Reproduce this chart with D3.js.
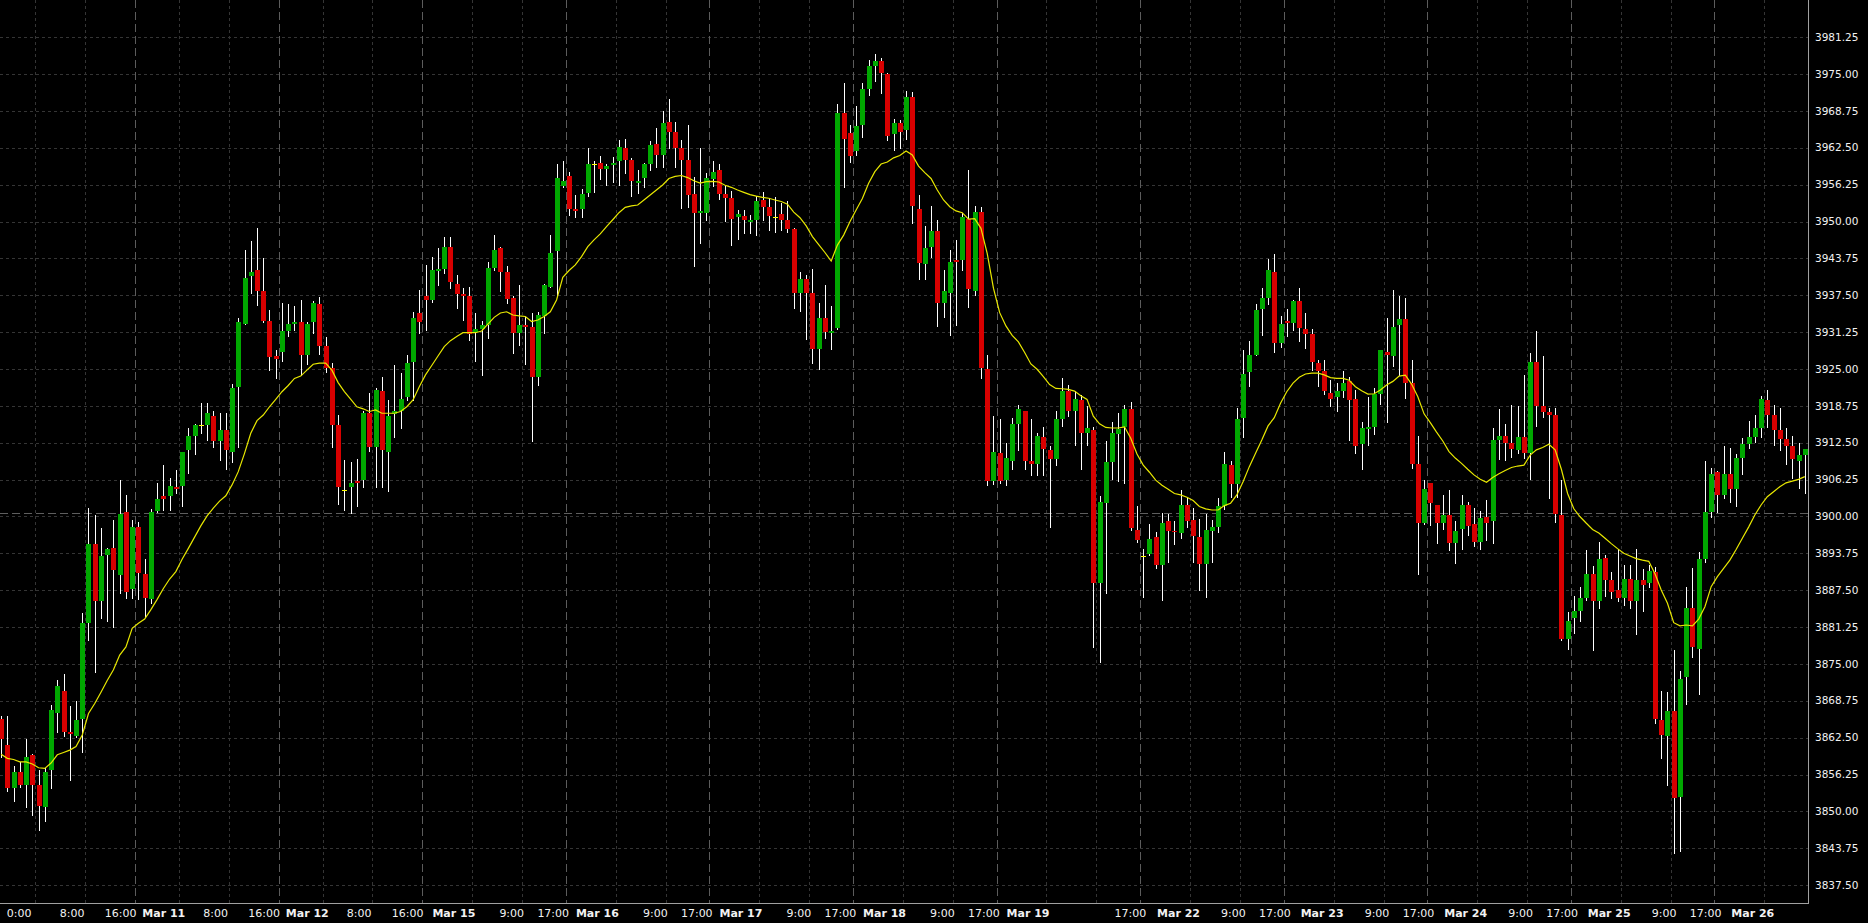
<!DOCTYPE html>
<html><head><meta charset="utf-8">
<script src="https://cdn.jsdelivr.net/npm/d3@7"></script>
<style>
html,body{margin:0;padding:0;background:#000;overflow:hidden}
svg{display:block}
</style></head><body>
<svg id="chart" width="1868" height="923"></svg>
<script>
// ---- data (hourly bars) ----
const opens = [
3865.6,3861.3,3854.0,3856.6,3854.5,3859.6,3854.5,3850.8,3857.0,3866.7,
3870.4,3863.5,3862.8,3865.7,3882.0,3895.4,3885.7,3893.5,3894.7,3890.0,
3900.8,3887.7,3898.2,3890.2,3886.0,3901.0,3903.5,3903.4,3904.95,3905.2,
3911.3,3913.65,3915.5,3915.5,3917.05,3912.85,3914.7,3911.0,3922.0,3932.7,
3940.8,3941.8,3938.2,3933.15,3927.2,3927.95,3931.45,3932.6,3933.0,3927.3,
3933.0,3936.1,3928.95,3925.1,3915.5,3904.5,3905.05,3906.0,3906.1,3917.5,
3911.85,3921.3,3911.0,3917.4,3917.95,3920.3,3926.25,3934.45,3937.4,3936.7,
3941.6,3942.0,3945.6,3939.4,3937.7,3937.4,3931.2,3931.8,3932.5,3942.2,
3945.45,3941.4,3937.0,3931.05,3932.45,3932.05,3923.6,3934.0,3938.95,3945.0,
3956.1,3957.7,3952.2,3952.1,3954.8,3959.75,3959.9,3958.9,3959.5,3960.3,
3962.4,3960.4,3956.6,3957.3,3959.75,3963.15,3961.2,3966.9,3965.2,3962.5,
3960.4,3954.7,3951.4,3951.5,3957.15,3958.75,3954.7,3954.05,3950.8,3951.0,
3949.95,3950.25,3953.65,3952.4,3950.8,3951.3,3950.25,3948.7,3937.8,3940.25,
3937.8,3928.35,3933.6,3931.15,3931.9,3968.45,3965.05,3962.0,3966.4,3972.45,
3976.4,3977.2,3975.0,3964.8,3966.65,3965.6,3971.05,3952.05,3942.75,3945.75,
3948.4,3936.25,3937.95,3943.5,3943.5,3950.4,3938.3,3951.55,3924.95,3906.0,
3910.7,3906.2,3909.45,3915.7,3917.9,3909.4,3908.9,3913.4,3911.3,3909.75,
3916.5,3921.3,3917.9,3919.75,3914.2,3914.65,3888.7,3902.35,3909.3,3914.0,
3915.1,3918.15,3897.7,3893.3,3893.6,3896.5,3891.8,3899.25,3897.55,3897.25,
3901.95,3899.4,3896.6,3891.95,3897.6,3898.3,3901.8,3908.75,3905.5,3916.75,
3924.55,3927.4,3935.2,3937.1,3941.45,3929.45,3933.15,3932.75,3936.5,3931.8,
3930.9,3926.1,3924.7,3920.9,3920.3,3921.3,3922.95,3919.85,3912.3,3914.9,
3915.2,3920.75,3927.9,3927.2,3932.45,3933.5,3922.55,3908.9,3898.95,3905.6,
3901.95,3898.95,3900.25,3895.55,3897.8,3901.95,3898.7,3895.75,3899.98,3899.3,
3912.97,3913.65,3912.5,3911.3,3913.5,3910.8,3926.25,3918.8,3917.7,3917.2,
3900.25,3879.2,3882.85,3884.05,3886.25,3890.25,3885.75,3893.0,3889.25,3887.55,
3886.1,3889.4,3885.6,3889.25,3888.7,3890.6,3865.5,3862.85,3867.1,3852.5,
3872.85,3884.55,3877.55,3892.8,3900.8,3907.5,3903.65,3907.2,3904.7,3909.95,
3912.3,3913.5,3915.05,3919.75,3917.2,3914.65,3913.1,3911.95,3909.45,3910.4
];
const highs = [
3866.2,3866.2,3857.7,3858.3,3862.3,3859.8,3857.1,3857.3,3868.0,3872.3,
3873.3,3867.8,3868.7,3883.6,3901.4,3900.2,3898.0,3894.6,3899.4,3906.2,
3903.6,3899.4,3899.1,3892.8,3901.2,3905.6,3908.7,3906.5,3907.8,3911.0,
3915.0,3915.7,3919.3,3919.3,3917.95,3917.5,3917.5,3922.4,3933.7,3945.2,
3946.7,3948.85,3943.9,3935.0,3928.2,3936.25,3936.0,3935.7,3936.7,3932.9,
3936.5,3937.2,3930.5,3926.1,3917.2,3909.5,3909.3,3909.8,3917.95,3920.9,
3921.85,3923.6,3919.75,3925.6,3924.3,3927.4,3934.7,3938.4,3942.6,3944.05,
3945.45,3947.3,3947.3,3940.9,3938.7,3938.85,3934.45,3933.15,3943.2,3947.7,
3945.75,3942.5,3937.4,3939.25,3933.9,3934.45,3934.7,3939.35,3947.7,3959.75,
3960.3,3958.45,3954.5,3955.5,3962.4,3960.25,3961.1,3959.75,3961.0,3963.8,
3964.0,3960.7,3958.75,3959.9,3963.7,3965.8,3968.75,3970.8,3966.9,3963.9,
3966.35,3957.6,3962.4,3958.2,3960.3,3959.75,3956.0,3955.1,3951.95,3951.95,
3951.1,3954.4,3954.95,3953.9,3954.2,3953.1,3953.5,3948.95,3941.4,3940.9,
3941.95,3936.25,3939.25,3935.7,3969.9,3973.5,3966.4,3969.5,3973.5,3977.4,
3978.4,3977.7,3975.2,3967.4,3967.2,3972.1,3972.0,3954.5,3949.25,3952.6,
3950.25,3941.8,3945.2,3946.9,3951.4,3958.75,3952.6,3952.5,3927.4,3917.05,
3916.5,3912.5,3916.65,3918.9,3917.9,3916.5,3914.1,3915.2,3911.95,3917.9,
3923.4,3922.3,3921.3,3920.6,3918.7,3915.2,3903.5,3912.8,3916.1,3917.5,
3918.9,3919.35,3901.7,3894.5,3898.7,3897.4,3900.55,3900.4,3899.25,3904.5,
3903.35,3901.4,3899.5,3900.4,3899.4,3903.1,3911.0,3909.45,3918.45,3928.2,
3929.8,3936.0,3938.7,3943.65,3944.5,3934.0,3935.1,3936.7,3938.7,3934.55,
3931.8,3926.5,3926.6,3923.1,3922.55,3924.7,3923.7,3921.45,3916.1,3920.3,
3921.7,3928.2,3933.6,3938.4,3937.4,3937.0,3926.5,3913.65,3906.1,3905.6,
3901.95,3903.65,3904.5,3899.25,3903.65,3902.4,3901.4,3900.95,3902.8,3914.95,
3918.3,3915.7,3918.9,3918.7,3924.0,3927.65,3931.45,3927.2,3918.35,3918.35,
3906.2,3883.75,3886.5,3888.1,3894.3,3891.6,3895.75,3893.5,3890.65,3894.5,
3891.8,3891.8,3894.45,3891.05,3891.8,3891.5,3870.5,3870.3,3877.3,3873.8,
3888.1,3891.3,3894.05,3909.45,3908.3,3907.7,3911.95,3911.55,3910.55,3913.25,
3916.2,3917.2,3920.4,3921.45,3918.9,3918.35,3915.05,3913.65,3912.5,3911.45
];
const lows = [
3859.2,3853.4,3851.8,3854.2,3850.8,3849.4,3846.9,3848.4,3853.9,3863.4,
3862.8,3855.3,3862.7,3860.1,3879.1,3873.7,3882.8,3882.3,3881.2,3887.1,
3886.1,3886.1,3886.0,3883.0,3885.3,3900.8,3901.1,3901.1,3903.9,3901.8,
3907.4,3910.6,3914.1,3913.0,3911.85,3909.6,3908.0,3909.3,3911.85,3932.6,
3937.8,3935.85,3932.9,3924.85,3923.5,3926.35,3930.6,3931.6,3923.9,3925.85,
3931.05,3927.55,3924.55,3911.85,3902.1,3901.1,3900.65,3901.7,3904.95,3911.15,
3904.95,3904.95,3904.4,3913.4,3915.05,3919.75,3919.75,3931.15,3931.6,3936.4,
3939.25,3941.35,3938.7,3935.4,3933.3,3930.0,3926.35,3924.0,3930.3,3941.8,
3938.3,3936.15,3927.65,3929.1,3925.85,3912.85,3922.3,3931.15,3938.85,3937.3,
3955.9,3951.1,3950.8,3950.8,3954.3,3954.95,3957.2,3956.2,3956.75,3956.2,
3958.3,3954.3,3954.9,3955.9,3958.75,3959.3,3959.3,3962.4,3959.3,3952.35,
3952.5,3942.5,3946.4,3950.3,3956.0,3953.9,3950.15,3946.0,3947.1,3948.1,
3948.1,3947.7,3950.25,3948.55,3948.3,3948.55,3948.3,3935.3,3934.9,3930.1,
3926.1,3924.95,3930.2,3928.35,3931.7,3955.9,3960.15,3961.3,3964.4,3971.45,
3973.9,3971.85,3963.9,3962.1,3962.4,3964.0,3949.8,3940.2,3940.2,3944.05,
3932.3,3933.9,3930.75,3932.45,3941.8,3935.55,3937.55,3923.5,3905.3,3905.45,
3905.6,3905.35,3908.0,3911.3,3908.05,3907.0,3907.0,3907.0,3898.3,3908.7,
3915.35,3917.05,3912.1,3908.05,3912.1,3877.8,3875.3,3887.0,3906.3,3906.0,
3905.6,3897.7,3895.6,3886.4,3893.5,3891.3,3885.85,3892.35,3895.35,3896.4,
3898.15,3892.35,3887.55,3886.4,3892.2,3897.45,3901.2,3903.35,3903.35,3913.55,
3922.2,3927.4,3930.75,3935.95,3927.8,3928.8,3930.6,3931.6,3929.8,3928.6,
3924.85,3922.2,3920.75,3918.7,3917.8,3920.3,3912.95,3910.8,3908.05,3912.1,
3914.0,3919.05,3916.1,3925.5,3924.0,3920.0,3908.2,3890.25,3898.7,3898.55,
3895.45,3897.9,3894.3,3892.05,3894.45,3896.85,3895.0,3894.5,3896.0,3895.45,
3909.7,3909.6,3910.15,3910.8,3909.85,3906.4,3915.35,3916.9,3903.2,3899.1,
3879.1,3877.5,3880.2,3882.2,3885.85,3877.4,3884.45,3886.55,3886.15,3885.6,
3885.0,3884.45,3880.1,3883.9,3888.1,3864.95,3859.0,3854.4,3843.0,3843.25,
3868.2,3876.25,3869.85,3892.2,3899.9,3900.7,3903.2,3902.4,3901.7,3907.15,
3911.55,3912.7,3913.5,3915.1,3912.1,3911.3,3908.85,3906.6,3904.9,3903.9
];
const closes = [
3862.3,3854.0,3856.6,3854.4,3859.2,3854.5,3851.0,3856.7,3867.2,3871.3,
3863.5,3863.2,3865.5,3882.0,3895.4,3885.7,3893.3,3894.5,3890.9,3900.4,
3887.2,3898.2,3890.4,3886.2,3900.8,3903.0,3903.0,3905.2,3904.6,3910.9,
3913.65,3915.5,3915.5,3917.5,3912.85,3914.7,3911.3,3921.7,3933.0,3940.4,
3941.45,3938.3,3933.2,3927.1,3926.75,3931.45,3932.6,3933.0,3927.3,3932.6,
3936.25,3928.95,3925.1,3915.5,3905.05,3904.5,3905.6,3905.7,3917.5,3911.85,
3921.45,3911.3,3917.05,3917.95,3919.9,3926.1,3933.7,3933.05,3936.7,3941.8,
3942.0,3945.6,3939.8,3937.7,3937.4,3930.9,3931.7,3932.5,3942.2,3945.2,
3941.5,3936.8,3931.05,3932.45,3932.2,3923.6,3934.15,3939.25,3944.7,3957.45,
3956.8,3952.1,3951.85,3954.7,3959.75,3959.75,3958.9,3959.4,3960.0,3962.6,
3960.4,3956.9,3956.9,3959.75,3962.98,3961.2,3966.7,3965.2,3962.5,3960.4,
3954.5,3951.5,3951.7,3957.3,3958.35,3954.7,3954.05,3950.4,3951.3,3950.25,
3950.25,3953.5,3952.4,3950.95,3950.8,3950.25,3948.7,3937.95,3940.25,3937.95,
3928.4,3933.6,3931.35,3931.45,3968.45,3964.0,3961.15,3966.2,3972.45,3976.35,
3977.2,3975.1,3964.55,3966.65,3965.25,3971.05,3952.6,3943.0,3945.45,3948.4,
3936.25,3938.3,3943.2,3943.2,3950.8,3938.5,3951.55,3925.1,3906.0,3911.0,
3906.0,3909.85,3915.7,3918.15,3909.45,3908.9,3913.65,3911.4,3909.75,3916.5,
3921.3,3917.9,3919.9,3914.2,3915.0,3888.7,3902.5,3909.3,3914.1,3914.8,
3918.15,3898.1,3896.0,3893.3,3896.1,3891.8,3898.85,3897.55,3897.3,3901.95,
3899.3,3896.7,3891.95,3897.7,3898.15,3901.8,3908.9,3905.5,3916.5,3924.15,
3927.4,3935.0,3937.0,3941.8,3929.45,3932.6,3932.85,3936.5,3932.0,3930.9,
3926.25,3924.7,3921.35,3919.9,3921.3,3922.55,3919.75,3912.0,3915.0,3915.1,
3920.7,3928.2,3927.4,3932.2,3933.5,3922.55,3908.9,3898.95,3904.65,3902.35,
3898.85,3900.25,3895.55,3897.55,3901.95,3898.45,3895.75,3899.8,3898.96,3912.97,
3913.65,3912.5,3911.45,3913.5,3910.8,3926.25,3918.8,3917.7,3917.2,3900.4,
3879.2,3882.2,3884.0,3886.25,3890.25,3885.75,3892.8,3889.25,3887.25,3886.1,
3889.4,3885.6,3889.25,3888.3,3890.75,3865.6,3862.97,3867.1,3852.35,3872.45,
3884.55,3877.8,3892.8,3900.8,3907.2,3903.65,3907.2,3904.7,3909.95,3912.3,
3913.5,3915.05,3919.9,3917.2,3914.65,3913.15,3911.95,3909.8,3910.4,3911.45
];
// moving average line (yellow), one value per bar
const maValues = [
3859.7,3859.0,3858.8,3858.4,3858.4,3858.05,3857.4,3857.3,3858.2,3859.6,
3860.0,3860.4,3861.0,3862.95,3866.6,3868.3,3870.2,3872.2,3874.0,3876.5,
3877.9,3881.05,3881.9,3882.6,3884.2,3885.95,3887.8,3889.4,3890.65,3892.75,
3894.6,3896.5,3898.4,3900.1,3901.4,3902.6,3903.5,3905.35,3907.6,3910.7,
3914.1,3916.25,3917.2,3918.6,3919.85,3921.15,3922.2,3923.4,3923.8,3924.8,
3925.8,3926.0,3926.0,3924.8,3922.7,3921.15,3919.9,3918.6,3918.25,3917.8,
3918.05,3917.5,3917.5,3917.5,3917.8,3918.6,3919.75,3922.0,3924.0,3925.6,
3927.2,3928.8,3929.8,3930.5,3931.15,3931.15,3931.15,3931.45,3932.6,3933.75,
3934.5,3934.7,3934.15,3934.0,3933.9,3933.05,3933.3,3933.9,3934.7,3936.7,
3940.55,3941.7,3942.65,3944.05,3945.75,3946.9,3947.9,3949.15,3950.3,3951.5,
3952.4,3952.65,3952.8,3953.65,3954.5,3955.35,3956.2,3957.3,3957.65,3957.8,
3957.45,3956.9,3956.5,3956.75,3956.8,3956.7,3956.15,3955.8,3955.35,3954.95,
3954.55,3954.3,3954.1,3953.95,3953.65,3953.4,3952.95,3951.6,3950.65,3949.25,
3947.45,3946.1,3944.75,3943.3,3946.0,3947.7,3949.95,3951.95,3953.9,3956.5,
3958.45,3959.75,3960.1,3960.8,3961.2,3961.95,3961.3,3959.4,3958.3,3957.3,
3955.35,3953.65,3952.5,3951.8,3951.5,3950.4,3950.5,3948.85,3944.6,3938.7,
3934.55,3932.3,3930.7,3929.6,3927.8,3925.85,3924.95,3923.7,3922.35,3921.7,
3921.65,3921.55,3921.25,3920.45,3919.85,3917.0,3915.7,3915.1,3915.0,3915.0,
3915.2,3913.25,3910.6,3908.7,3907.5,3906.15,3905.3,3904.6,3903.9,3903.65,
3903.25,3902.7,3901.7,3901.3,3901.1,3901.1,3901.85,3902.25,3903.65,3905.9,
3908.45,3910.7,3912.95,3915.35,3916.75,3919.2,3921.15,3922.6,3923.6,3924.15,
3924.3,3924.3,3924.0,3923.55,3923.4,3923.4,3923.1,3922.0,3921.3,3920.75,
3920.8,3921.45,3922.3,3922.9,3923.8,3923.95,3922.45,3920.3,3917.4,3915.9,
3914.3,3912.8,3911.0,3909.9,3909.0,3908.0,3907.05,3906.3,3905.8,3906.6,
3907.25,3907.8,3908.3,3908.55,3908.7,3910.4,3911.3,3911.7,3912.25,3911.3,
3908.0,3903.9,3901.3,3899.95,3898.85,3897.8,3897.2,3896.3,3895.4,3894.55,
3893.75,3893.3,3892.85,3892.6,3892.4,3890.3,3887.55,3885.3,3882.0,3881.45,
3881.6,3881.45,3882.6,3884.7,3888.1,3889.8,3891.2,3892.6,3894.4,3896.3,
3898.2,3900.25,3901.95,3903.35,3904.2,3905.05,3905.7,3906.0,3906.3,3906.75
];
const priceTicks = [3837.50,3843.75,3850.00,3856.25,3862.50,3868.75,3875.00,3881.25,
  3887.50,3893.75,3900.00,3906.25,3912.50,3918.75,3925.00,3931.25,3937.50,3943.75,
  3950.00,3956.25,3962.50,3968.75,3975.00,3981.25];
const sessionDays = ["Mar 10","Mar 11","Mar 12","Mar 15","Mar 16","Mar 17","Mar 18",
  "Mar 19","Mar 22","Mar 23","Mar 24","Mar 25","Mar 26"];
const winterHourLabels = ["8:00","16:00"];
const summerHourLabels = ["9:00","17:00"];
const firstTimeLabel = "0:00";
const omittedLabels = [{ day: "Mar 19", text: "9:00" }];
const firstSummerDay = 3;       // index in sessionDays (Mar 15)
const barsPerDay = 23;
const firstDayStartBar = -1;    // Mar 10 starts just left of the view
const levelLine = 3900.6;

// ---- layout ----
const W = 1868, H = 923, plotRight = 1808, plotBottom = 903;
const nBars = opens.length;
const barStep = 6.241;
const x = d3.scaleLinear().domain([0, nBars - 1]).range([1.12, 1.12 + barStep * (nBars - 1)]);
const y = d3.scaleLinear().domain([3843.75, 3981.25]).range([848.3, 37.18]);

const svg = d3.select("#chart");
svg.append("rect").attr("width", W).attr("height", H).attr("fill", "#000");

const grid = svg.append("g");
grid.selectAll("line.h").data(priceTicks).join("line")
  .attr("x1", 0).attr("x2", plotRight)
  .attr("y1", d => Math.round(y(d)) + 0.5).attr("y2", d => Math.round(y(d)) + 0.5)
  .attr("stroke", "#353535").attr("stroke-dasharray", "3,3");

const dayInfo = sessionDays.map((name, d) => {
  const startBar = d === 0 ? firstDayStartBar : firstDayStartBar + barsPerDay * d;
  return { name, d, startBar, sep: x(startBar) - barStep / 2, summer: d >= firstSummerDay };
});

dayInfo.forEach(o => {
  const offs = o.summer ? [8, 16] : [7, 15];
  offs.forEach(n => {
    const gx = Math.round(o.sep + n * barStep) + 0.5;
    if (gx > 0 && gx < plotRight)
      grid.append("line").attr("x1", gx).attr("x2", gx).attr("y1", 0).attr("y2", plotBottom)
        .attr("stroke", "#353535").attr("stroke-dasharray", "3,3");
  });
  if (o.d > 0) {
    const sx = Math.round(o.sep) + 0.5;
    grid.append("line").attr("x1", sx).attr("x2", sx).attr("y1", 0).attr("y2", plotBottom)
      .attr("stroke", "#5c5c5c").attr("stroke-dasharray", "8,4");
  }
});

grid.append("line").attr("x1", 0).attr("x2", plotRight)
  .attr("y1", Math.round(y(levelLine)) + 0.5).attr("y2", Math.round(y(levelLine)) + 0.5)
  .attr("stroke", "#5e5e5e").attr("stroke-dasharray", "8,4");

// candles
const bars = d3.range(nBars).map(i => ({ i, o: opens[i], h: highs[i], l: lows[i], c: closes[i] }));
const cg = svg.append("g");
cg.selectAll("line.wick").data(bars).join("line")
  .attr("x1", d => Math.round(x(d.i)) + 0.5).attr("x2", d => Math.round(x(d.i)) + 0.5)
  .attr("y1", d => Math.round(y(d.h))).attr("y2", d => Math.round(y(d.l)) + 1)
  .attr("stroke", "#ffffff").attr("stroke-width", 1);
cg.selectAll("rect.body").data(bars).join("rect")
  .attr("x", d => Math.round(x(d.i)) - 2).attr("width", 5)
  .attr("y", d => Math.round(y(Math.max(d.o, d.c))))
  .attr("height", d => Math.max(1, Math.round(y(Math.min(d.o, d.c))) - Math.round(y(Math.max(d.o, d.c)))))
  .attr("fill", d => d.c > d.o ? "#00a800" : (d.c < d.o ? "#d80000" : "#ffff00"));

// moving average
svg.append("path").datum(maValues)
  .attr("d", d3.line().x((d, i) => x(i)).y(d => y(d)))
  .attr("fill", "none").attr("stroke", "#e8e800").attr("stroke-width", 1.2);

// axis zones
svg.append("rect").attr("x", plotRight).attr("y", 0).attr("width", W - plotRight).attr("height", H).attr("fill", "#000");
svg.append("rect").attr("x", 0).attr("y", plotBottom).attr("width", W).attr("height", H - plotBottom).attr("fill", "#000");

svg.append("line").attr("x1", plotRight + 0.5).attr("x2", plotRight + 0.5).attr("y1", 0).attr("y2", plotBottom + 1)
  .attr("stroke", "#a0a0a0");
svg.append("line").attr("x1", 0).attr("x2", plotRight + 1).attr("y1", plotBottom + 0.5).attr("y2", plotBottom + 0.5)
  .attr("stroke", "#a0a0a0");

// price labels
svg.append("g").selectAll("text").data(priceTicks).join("text")
  .attr("x", 1815).attr("y", d => y(d)).attr("dy", "0.35em")
  .attr("font-family", "DejaVu Sans").attr("font-size", 10.5).attr("fill", "#f2f2f2")
  .text(d => d.toFixed(2));

// time labels
const tl = [];
dayInfo.forEach(o => {
  const late = o.d >= 8;               // labels after the second weekend sit a little further right
  const dateDx = (o.summer ? 10 : 7) + (late ? 7 : 0);
  const hourDx = o.summer ? [77, 115] : [68, 113];
  const hourShift = late ? 4 : (o.d === 7 ? 3 : 0);
  const hours = o.summer ? summerHourLabels : winterHourLabels;
  if (o.d === 0) tl.push({ text: firstTimeLabel, x: 6.7, bold: false });
  else tl.push({ text: o.name, x: o.sep + dateDx, bold: true });
  hours.forEach((h, k) => {
    if (omittedLabels.some(m => m.day === o.name && m.text === h)) return;
    tl.push({ text: h, x: o.sep + hourDx[k] + hourShift, bold: false });
  });
});
svg.append("g").selectAll("text").data(tl.filter(t => t.x < plotRight - 30)).join("text")
  .attr("x", d => d.x).attr("y", 913).attr("dy", "0.35em")
  .attr("font-family", "DejaVu Sans").attr("font-size", 11)
  .attr("font-weight", d => d.bold ? "bold" : "normal")
  .attr("fill", "#f2f2f2").text(d => d.text);
</script>
</body></html>
